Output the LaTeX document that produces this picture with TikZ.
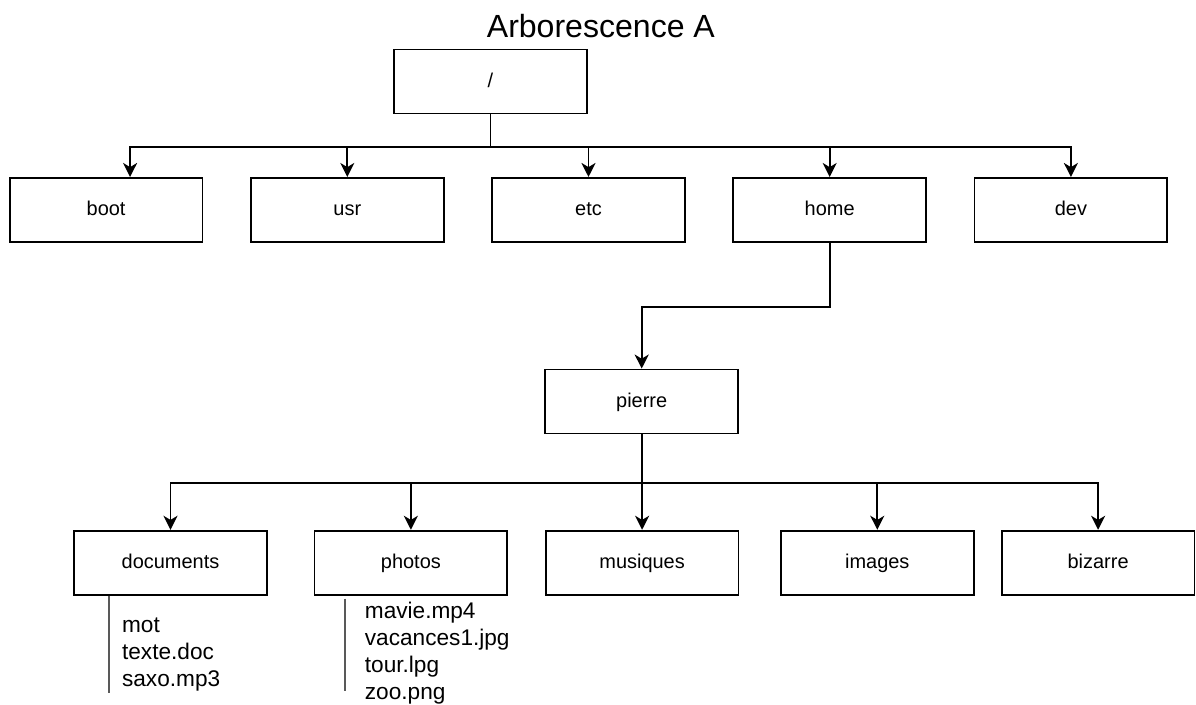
\documentclass[tikz,border=0pt]{standalone}
\usepackage{fontspec}
\setmainfont{Liberation Sans}
\usepackage{tikz}
\usetikzlibrary{calc,arrows.meta}
\tikzstyle{block} = [draw, rectangle, line width=1.3pt, minimum height=1.6cm, minimum width=4.82cm, text height=0.9em, text depth=0.08em, font=\fontsize{14.2}{16}\selectfont]
\tikzstyle{filelist} = [align=left, inner sep=0pt, anchor=north west, font=\fontsize{16.1}{19.2}\selectfont]
\tikzstyle{listline} = [draw=black!65, line width=1.1pt]

\begin{document}
\begin{tikzpicture}[>={Stealth[length=10pt,width=10pt,inset=3pt]}, line width=1.3pt]
\useasboundingbox (-12.2625,2.0375) rectangle (17.6375,-15.5625);

%% Titre %%
\node [font=\fontsize{22.8}{26}\selectfont, anchor=base] (Title) at (2.76,1.11) {Arborescence A};

%% Racine et premier niveau %%
\node [block] (Root) at (0,0) {/};
\node [block] (Boot) at ($(Root)+(-9.61,-3.21)$) {boot};
\node [block] (Usr) at ($(Boot)+(6.03,0)$) {usr};
\node [block] (Etc) at ($(Usr)+(6.03,0)$) {etc};
\node [block] (Home) at ($(Etc)+(6.03,0)$) {home};
\node [block] (Dev) at ($(Home)+(6.03,0)$) {dev};

%% Dossier de pierre %%
\node [block] (Pierre) at ($(Home)+(-4.70,-4.79)$) {pierre};
\node [block] (Documents) at ($(Pierre)+(-11.78,-4.03)$) {documents};
\node [block] (Photos) at ($(Documents)+(6.01,0)$) {photos};
\node [block] (Musiques) at ($(Photos)+(5.78,0)$) {musiques};
\node [block] (Images) at ($(Musiques)+(5.88,0)$) {images};
\node [block] (Bizarre) at ($(Images)+(5.52,0)$) {bizarre};

%% Fichiers %%
\coordinate (DocEnd) at ($(Documents.south west)+(0.9,-2.43)$);
\draw[listline] (Documents.south west -| DocEnd) -- (DocEnd);
\node [filelist] (DocFiles) at ($(Documents.south west)+(1.2,-0.53)$) {mot\\texte.doc\\saxo.mp3};
\coordinate (PhotoTop) at ($(Photos.south west)+(0.79,-0.075)$);
\coordinate (PhotoEnd) at ($(PhotoTop)+(0,-2.3)$);
\draw[listline] (PhotoTop) -- (PhotoEnd);
\node [filelist] (PhotoFiles) at ($(Photos.south west)+(1.26,-0.14)$) {mavie.mp4\\vacances1.jpg\\tour.lpg\\zoo.png};

%% Liaisons %%
\coordinate (RootBus) at ($(Root.south)+(0,-0.81)$);
\draw (Root.south) -- (RootBus);
\draw[->] (RootBus) -| ($(Boot.north)+(0.6,0)$);
\draw[->] (RootBus) -| (Usr);
\draw[->] (RootBus) -| (Etc);
\draw[->] (RootBus) -| (Home);
\draw[->] (RootBus) -| (Dev);
\draw[->] (Home.south) -- ++(0,-1.6) -| (Pierre);
\coordinate (PierreBus) at ($(Pierre.south)+(0,-1.21)$);
\draw (Pierre.south) -- (PierreBus);
\draw[->] (PierreBus) -| (Documents);
\draw[->] (PierreBus) -| (Photos);
\draw[->] (PierreBus) -| (Musiques);
\draw[->] (PierreBus) -| (Images);
\draw[->] (PierreBus) -| (Bizarre);

\end{tikzpicture}
\end{document}
